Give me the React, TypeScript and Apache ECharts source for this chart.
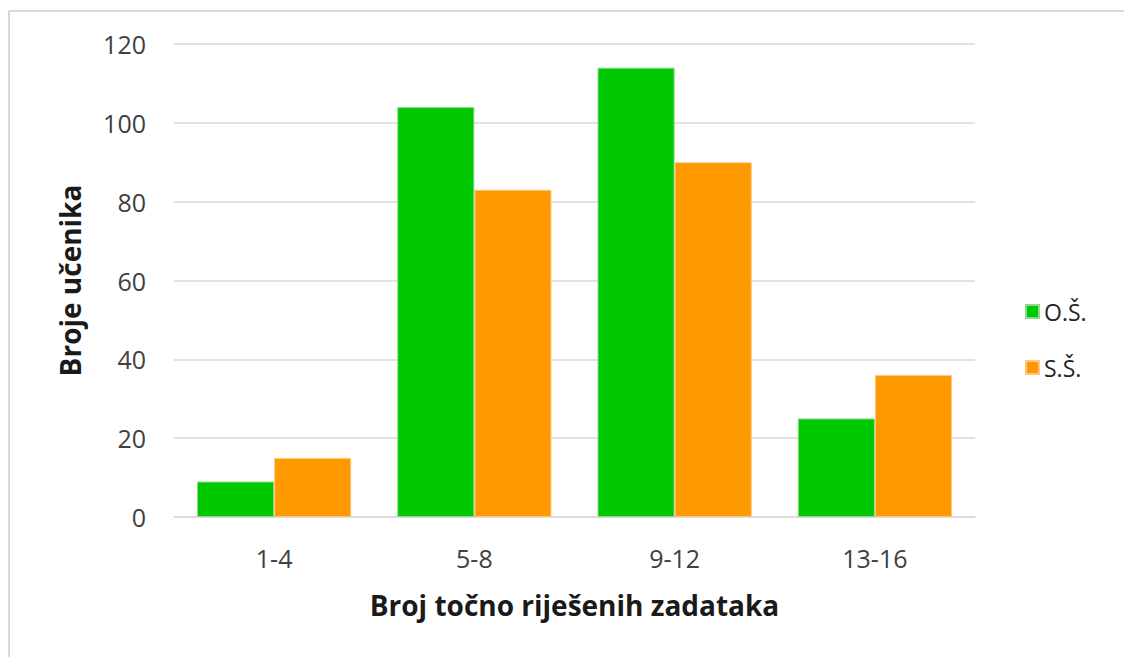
import React, { useEffect, useRef } from "react";
import * as echarts from "echarts";

const categories = ["1-4", "5-8", "9-12", "13-16"];
const osValues = [9, 104, 114, 25];
const ssValues = [15, 83, 90, 36];
const seriesNames = ["O.Š.", "S.Š."];
const yTitle = "Broje učenika";
const xTitle = "Broj točno riješenih zadataka";

const FONT = "'Open Sans', sans-serif";

export default function App() {
  const ref = useRef<HTMLDivElement>(null);
  useEffect(() => {
    if (!ref.current) return;
    const chart = echarts.init(ref.current, null, { renderer: "svg" });
    chart.setOption({
      animation: false,
      backgroundColor: "#ffffff",
      textStyle: { fontFamily: FONT },
      graphic: [
        { type: "line", shape: { x1: 9, y1: 11, x2: 1124, y2: 11 }, style: { stroke: "#d9d9d9", lineWidth: 2 } },
        { type: "line", shape: { x1: 9, y1: 11, x2: 9, y2: 657 }, style: { stroke: "#d9d9d9", lineWidth: 2 } },
      ],
      grid: { left: 174, right: 149, top: 44, bottom: 140 },
      legend: {
        orient: "vertical",
        left: 1020,
        top: 295,
        itemWidth: 13,
        itemHeight: 13,
        itemGap: 33,
        icon: "rect",
        textStyle: { fontSize: 23, color: "#262626", fontFamily: FONT },
        data: seriesNames,
      },
      xAxis: {
        type: "category",
        data: categories,
        name: xTitle,
        nameLocation: "middle",
        nameGap: 74,
        nameTextStyle: { fontSize: 28, fontWeight: "bold", color: "#1a1a1a", fontFamily: FONT },
        axisLine: { lineStyle: { color: "#d9d9d9", width: 1.5 } },
        axisTick: { show: false },
        axisLabel: { fontSize: 25, color: "#404040", margin: 28, fontFamily: FONT },
      },
      yAxis: {
        type: "value",
        min: 0,
        max: 120,
        interval: 20,
        name: yTitle,
        nameLocation: "middle",
        nameGap: 90,
        nameTextStyle: { fontSize: 28, fontWeight: "bold", color: "#1a1a1a", fontFamily: FONT },
        axisLine: { show: false },
        axisTick: { show: false },
        axisLabel: { fontSize: 25, color: "#404040", margin: 28, fontFamily: FONT },
        splitLine: { lineStyle: { color: "#d9d9d9", width: 1.5 } },
      },
      series: [
        {
          name: seriesNames[0],
          type: "bar",
          data: osValues,
          barGap: "0%",
          barCategoryGap: "23%",
          itemStyle: { color: "#00c800", borderColor: "#8fd88f", borderWidth: 1 },
        },
        {
          name: seriesNames[1],
          type: "bar",
          data: ssValues,
          itemStyle: { color: "#ff9900", borderColor: "#ffc680", borderWidth: 1 },
        },
      ],
    });
    return () => chart.dispose();
  }, []);
  return (
    <div
      ref={ref}
      style={{ position: "fixed", left: 0, top: 0, width: 1124, height: 657, background: "#fff" }}
    />
  );
}
